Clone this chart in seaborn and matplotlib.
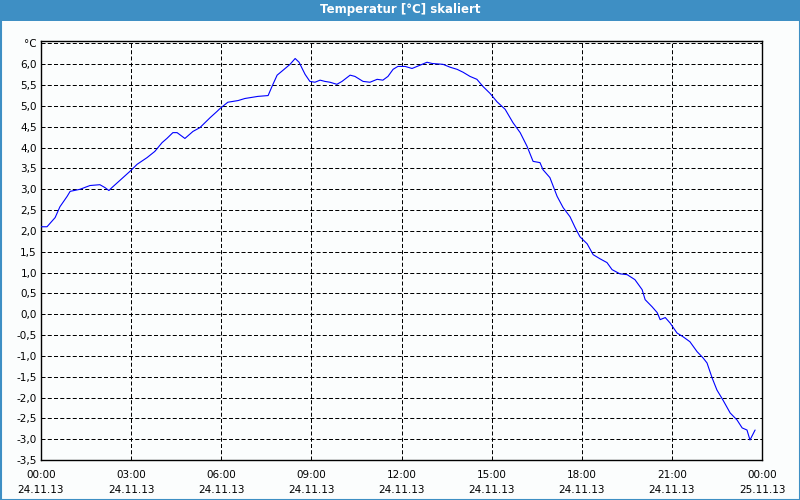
import numpy as np
import pandas as pd
import matplotlib
matplotlib.use("Agg")
import matplotlib.pyplot as plt
import seaborn as sns
from matplotlib.patches import Rectangle

# ---- data (hours since 24.11.13 00:00, temperature in °C) ----
hours = [0.00, 0.20, 0.47, 0.63, 0.87, 0.97, 1.30, 1.63, 1.96, 2.13, 2.26, 2.36,
         2.96, 3.20, 3.53, 3.79, 4.03, 4.19, 4.39, 4.53, 4.79, 5.06, 5.29, 5.63,
         5.86, 5.96, 6.22, 6.56, 6.79, 7.22, 7.56, 7.69, 7.86, 8.06, 8.29, 8.46,
         8.59, 8.79, 8.95, 9.12, 9.29, 9.45, 9.62, 9.85, 10.02, 10.29, 10.45,
         10.72, 10.95, 11.19, 11.38, 11.55, 11.72, 11.88, 12.12, 12.35, 12.62,
         12.85, 13.02, 13.38, 13.62, 13.85, 14.05, 14.28, 14.51, 14.71, 14.95,
         15.18, 15.45, 15.71, 15.95, 16.18, 16.38, 16.61, 16.71, 16.94, 17.18,
         17.38, 17.61, 17.78, 17.94, 18.18, 18.38, 18.61, 18.84, 19.01, 19.27,
         19.51, 19.77, 20.01, 20.11, 20.34, 20.51, 20.61, 20.78, 20.94, 21.17,
         21.37, 21.60, 21.84, 22.04, 22.17, 22.34, 22.50, 22.70, 22.94, 23.17,
         23.34, 23.50, 23.60, 23.77]
temps = [2.10, 2.10, 2.32, 2.58, 2.83, 2.95, 3.00, 3.09, 3.11, 3.04, 2.97, 3.04,
         3.43, 3.60, 3.76, 3.91, 4.12, 4.22, 4.36, 4.36, 4.22, 4.39, 4.48, 4.72,
         4.87, 4.94, 5.09, 5.13, 5.18, 5.23, 5.25, 5.47, 5.74, 5.86, 6.00, 6.14,
         6.05, 5.76, 5.59, 5.57, 5.62, 5.59, 5.57, 5.52, 5.59, 5.74, 5.71,
         5.59, 5.57, 5.64, 5.62, 5.71, 5.88, 5.95, 5.95, 5.90, 5.98,
         6.05, 6.02, 6.00, 5.93, 5.88, 5.81, 5.71, 5.64, 5.47, 5.30,
         5.10, 4.92, 4.60, 4.36, 4.03, 3.67, 3.64, 3.47, 3.28, 2.83,
         2.56, 2.34, 2.08, 1.86, 1.69, 1.43, 1.33, 1.24, 1.07, 0.97,
         0.95, 0.83, 0.59, 0.35, 0.18, 0.04, -0.13, -0.08, -0.21, -0.45,
         -0.54, -0.66, -0.90, -1.05, -1.17, -1.53, -1.82, -2.06, -2.37, -2.54,
         -2.73, -2.78, -3.02, -2.78]

x_tick_hours = [0, 3, 6, 9, 12, 15, 18, 21, 24]
x_tick_labels = ["00:00\n24.11.13", "03:00\n24.11.13", "06:00\n24.11.13",
                 "09:00\n24.11.13", "12:00\n24.11.13", "15:00\n24.11.13",
                 "18:00\n24.11.13", "21:00\n24.11.13", "00:00\n25.11.13"]
y_ticks = [-3.5, -3.0, -2.5, -2.0, -1.5, -1.0, -0.5, 0.0, 0.5, 1.0, 1.5,
           2.0, 2.5, 3.0, 3.5, 4.0, 4.5, 5.0, 5.5, 6.0, 6.5]
title = "Temperatur [°C] skaliert"
unit_label = "°C"

df = pd.DataFrame({"h": hours, "t": temps})

sns.set_style("white")
plt.rcParams["font.family"] = ["DejaVu Sans"]
plt.rcParams["lines.scale_dashes"] = False

BLUE_BAR = "#3e8fc4"
BG = "#fbfdfd"
PX = 0.72  # one pixel in points at 100 dpi

fig = plt.figure(figsize=(8, 5), dpi=100, facecolor=BG)
ax = fig.add_axes([41 / 800, 40 / 500, 721 / 800, 419 / 500])
ax.set_facecolor(BG)

sns.lineplot(data=df, x="h", y="t", ax=ax, color="#0000ff", linewidth=0.8,
             estimator=None, sort=False, zorder=3)

ax.set_xlim(0, 24)
ax.set_ylim(-3.5, 6.56)

# grid
dash = (0, (2.9, 1.6))
for yv in y_ticks:
    ax.axhline(yv, color="black", linewidth=PX, linestyle=dash, zorder=1)
for xv in x_tick_hours[1:-1]:
    ax.axvline(xv, color="black", linewidth=PX, linestyle=dash, zorder=1)

ax.set_yticks(y_ticks)
ylabels = [f"{v:.1f}".replace(".", ",") for v in y_ticks]
ylabels[-1] = unit_label
ax.set_yticklabels(ylabels)
ax.tick_params(axis="y", length=0, pad=3, labelsize=7.5, labelcolor="black")

ax.set_xticks(x_tick_hours)
ax.set_xticklabels(x_tick_labels)
ax.set_xticks(list(range(0, 25)), minor=True)
ax.tick_params(axis="x", which="both", direction="out", length=3, width=PX,
               color="black", pad=4, labelsize=7.5, labelcolor="black")
for lbl in ax.get_xticklabels():
    lbl.set_linespacing(1.6)

ax.set_xlabel("")
ax.set_ylabel("")
for sp in ax.spines.values():
    sp.set_visible(True)
    sp.set_color("black")
    sp.set_linewidth(1.0)

# title bar and frame
fig.patches.append(Rectangle((0, 479 / 500), 1, 21 / 500, transform=fig.transFigure,
                             facecolor=BLUE_BAR, edgecolor="none", zorder=0))
fig.patches.append(Rectangle((0.5 / 800, 0.5 / 500), 799 / 800, 499 / 500,
                             transform=fig.transFigure, facecolor="none",
                             edgecolor=BLUE_BAR, linewidth=1.5, zorder=5))
fig.text(0.5, 490 / 500, title, color="white", fontsize=8.5, fontweight="bold",
         ha="center", va="center")

fig.savefig("out.png", dpi=100, facecolor=BG)
